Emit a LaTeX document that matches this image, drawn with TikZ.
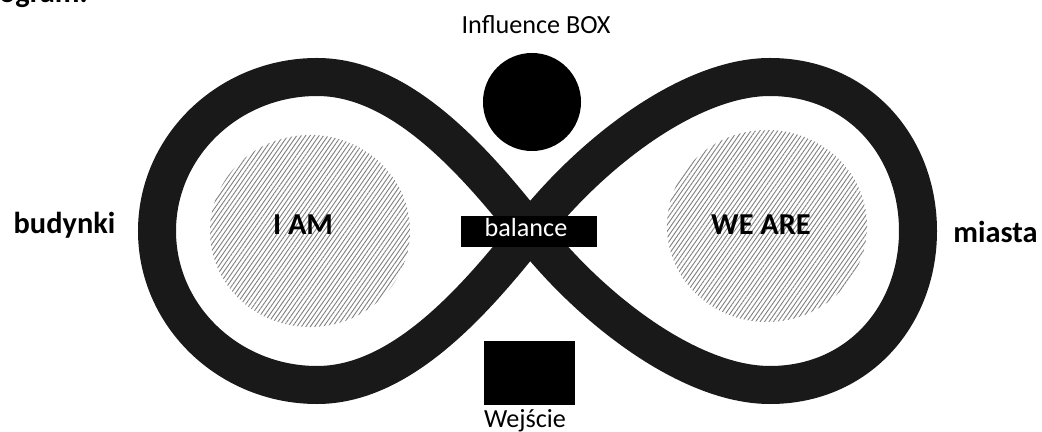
\documentclass[tikz,border=0pt]{standalone}
\usepackage{fontspec}
\setmainfont{Carlito}
\usetikzlibrary{patterns.meta}
\usetikzlibrary{shapes.geometric}
\tikzstyle{band} = [draw=black!90, line width=0.95cm]
\tikzstyle{hatchblob} = [ellipse, minimum width=5cm, minimum height=4.8cm, inner sep=0pt, pattern={Lines[angle=55, distance=2.6pt, line width=0.65pt]}, pattern color=black!50]
\tikzstyle{plain} = [font=\fontsize{18.6}{22}\selectfont, inner sep=0pt, anchor=base]
\tikzstyle{heavy} = [font=\bfseries\fontsize{21.6}{26}\selectfont, inner sep=0pt, anchor=base]
\tikzstyle{blackbox} = [fill=black, inner sep=0pt]

\begin{document}
\begin{tikzpicture}[x=0.025cm, y=-0.025cm]
	\useasboundingbox (0,0) rectangle (1042,432);

		% the ribbon
		\draw [band] (530,231) .. controls (468,152) and (397,77) .. (317,77)
			.. controls (229,77) and (157,146) .. (157,231)
			.. controls (157,316) and (229,385) .. (317,385)
			.. controls (397,385) and (468,310) .. (530,231)
			.. controls (592,152) and (690,77) .. (770,77)
			.. controls (858,77) and (918,146) .. (918,231)
			.. controls (918,316) and (858,385) .. (770,385)
			.. controls (690,385) and (592,310) .. cycle;

		\node [hatchblob] (selfblob) at (310,231) {};
		\node [heavy] (iam) at (303,235) {I AM};

		\node [hatchblob] (groupblob) at (767,226) {};
		\node [heavy] (weare) at (761,235) {WE ARE};

		\node [blackbox, circle, minimum size=2.45cm] (infbox) at (532,102) {};
		\node [plain] (inflabel) at (536,34) {Influence BOX};

		\node [blackbox, minimum width=3.4cm, minimum height=0.775cm] (balbar) at (529,231.5) {};
		\node [plain, text=white] (ballabel) at (526,237) {balance};

		\node [blackbox, minimum width=2.275cm, minimum height=1.6cm] (entry) at (529.5,373) {};
		\node [plain] (entrylabel) at (525,427.5) {Wejście};

		\node [heavy] (leftside) at (64.5,234) {budynki};
		\node [heavy] (rightside) at (995.5,243) {miasta};
		\node [heavy, anchor=base east] (cutoff) at (88,3) {ogram.};

	\end{tikzpicture}
\end{document}
